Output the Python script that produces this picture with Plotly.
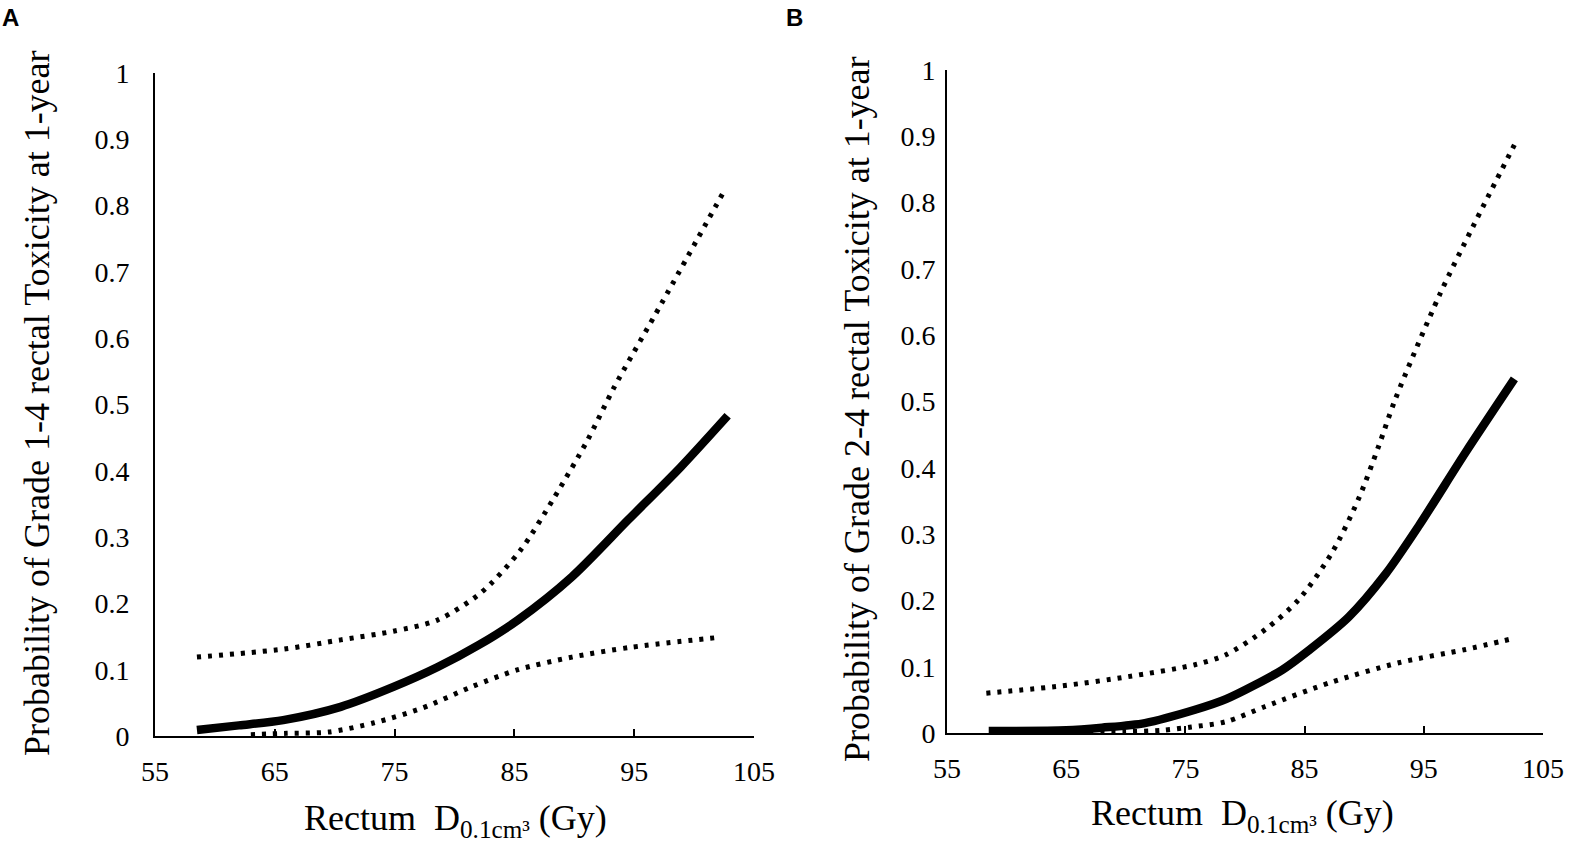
import plotly.graph_objects as go

# ---------------- data ----------------
# Panel A: Grade 1-4 rectal toxicity
A_main_x = [58.5, 62.0, 65.7, 70.5, 74.9, 78.6, 82.0, 85.3, 89.8, 94.5, 98.9, 102.8]
A_main_y = [0.009, 0.016, 0.024, 0.044, 0.074, 0.104, 0.137, 0.175, 0.240, 0.326, 0.406, 0.483]
A_up_x = [58.5, 65.7, 70.5, 74.9, 78.6, 82.2, 85.5, 88.3, 91.1, 93.3, 97.3, 102.6]
A_up_y = [0.119, 0.131, 0.145, 0.158, 0.175, 0.216, 0.280, 0.359, 0.446, 0.525, 0.653, 0.825]
A_lo_x = [63.0, 66.0, 69.5, 73.3, 77.3, 81.4, 85.3, 89.8, 94.8, 102.2]
A_lo_y = [0.002, 0.004, 0.006, 0.020, 0.042, 0.074, 0.100, 0.119, 0.134, 0.149]

# Panel B: Grade 2-4 rectal toxicity
B_main_x = [58.5, 65.0, 68.0, 71.6, 75.8, 78.4, 83.1, 85.3, 88.7, 91.8, 94.6, 98.5, 102.6]
B_main_y = [0.003, 0.004, 0.008, 0.015, 0.035, 0.051, 0.095, 0.124, 0.175, 0.240, 0.313, 0.423, 0.534]
B_up_x = [58.3, 64.6, 70.2, 75.8, 78.4, 81.7, 84.5, 87.3, 89.5, 91.2, 92.6, 96.3, 99.1, 102.6]
B_up_y = [0.060, 0.071, 0.085, 0.103, 0.118, 0.156, 0.201, 0.272, 0.352, 0.432, 0.503, 0.660, 0.763, 0.887]
B_lo_x = [66.0, 70.0, 73.0, 75.5, 78.4, 81.7, 87.3, 92.9, 98.5, 102.6]
B_lo_y = [0.001, 0.002, 0.004, 0.009, 0.017, 0.040, 0.077, 0.106, 0.126, 0.143]

X_TICKS = [55, 65, 75, 85, 95, 105]
Y_TICKS = [0, 0.1, 0.2, 0.3, 0.4, 0.5, 0.6, 0.7, 0.8, 0.9, 1]
Y_TICKTEXT = ["0", "0.1", "0.2", "0.3", "0.4", "0.5", "0.6", "0.7", "0.8", "0.9", "1"]

Y_TITLE_A = "Probability of Grade 1-4 rectal Toxicity at 1-year"
Y_TITLE_B = "Probability of Grade 2-4 rectal Toxicity at 1-year"
X_TITLE = "Rectum  D<sub>0.1cm³</sub> (Gy)"

# ---------------- figure ----------------
W, H = 1571, 847
SERIF = "Liberation Serif, Times New Roman, serif"

fig = go.Figure()

def add_panel(xa, ya, mx, my, ux, uy, lx, ly):
    dotted = dict(color="black", width=5, dash="4px,7px", shape="spline", smoothing=0.8)
    fig.add_trace(go.Scatter(x=ux, y=uy, mode="lines", line=dotted,
                             xaxis=xa, yaxis=ya, showlegend=False, hoverinfo="skip"))
    fig.add_trace(go.Scatter(x=lx, y=ly, mode="lines", line=dotted,
                             xaxis=xa, yaxis=ya, showlegend=False, hoverinfo="skip"))
    fig.add_trace(go.Scatter(x=mx, y=my, mode="lines",
                             line=dict(color="black", width=8.5, shape="spline", smoothing=0.8),
                             xaxis=xa, yaxis=ya, showlegend=False, hoverinfo="skip"))

add_panel("x", "y", A_main_x, A_main_y, A_up_x, A_up_y, A_lo_x, A_lo_y)
add_panel("x2", "y2", B_main_x, B_main_y, B_up_x, B_up_y, B_lo_x, B_lo_y)

xcommon = dict(range=[55, 105], tickvals=X_TICKS, ticktext=[str(v) for v in X_TICKS],
               showline=True, linecolor="black", linewidth=2, ticks="inside", ticklen=7,
               tickwidth=2, tickcolor="black", showgrid=False, zeroline=False,
               tickfont=dict(family=SERIF, size=28, color="black"), ticklabelstandoff=9,
               fixedrange=True, automargin=False)
ycommon = dict(range=[0, 1], tickvals=Y_TICKS, ticktext=Y_TICKTEXT,
               showline=True, linecolor="black", linewidth=2, ticks="",
               showgrid=False, zeroline=False,
               tickfont=dict(family=SERIF, size=28, color="black"),
               fixedrange=True, automargin=False)

fig.update_layout(
    template="none",
    width=W, height=H,
    margin=dict(l=0, r=0, t=0, b=0, pad=0, autoexpand=False),
    paper_bgcolor="white", plot_bgcolor="white",
    xaxis=dict(domain=[155 / W, 754 / W], anchor="y", **xcommon),
    yaxis=dict(domain=[(H - 736) / H, (H - 73) / H], anchor="x", ticklabelstandoff=18, **ycommon),
    xaxis2=dict(domain=[947 / W, 1543 / W], anchor="y2", **xcommon),
    yaxis2=dict(domain=[(H - 733) / H, (H - 70) / H], anchor="x2", ticklabelstandoff=4, **ycommon),
)

ann = []
def px(xp, yp):
    return dict(xref="paper", yref="paper", x=xp / W, y=1 - yp / H)

ann.append(dict(text="<b>A</b>", font=dict(family="Liberation Sans, Arial", size=24, color="black"),
                showarrow=False, xanchor="left", yanchor="middle", **px(0, 18)))
ann.append(dict(text="<b>B</b>", font=dict(family="Liberation Sans, Arial", size=24, color="black"),
                showarrow=False, xanchor="left", yanchor="middle", **px(784, 18)))
ann.append(dict(text=Y_TITLE_A, textangle=-90, font=dict(family=SERIF, size=36, color="black"),
                showarrow=False, xanchor="center", yanchor="middle", **px(37, 403)))
ann.append(dict(text=Y_TITLE_B, textangle=-90, font=dict(family=SERIF, size=36, color="black"),
                showarrow=False, xanchor="center", yanchor="middle", **px(857, 409)))
ann.append(dict(text=X_TITLE, font=dict(family=SERIF, size=36, color="black"),
                showarrow=False, xanchor="center", yanchor="middle", **px(455, 820)))
ann.append(dict(text=X_TITLE, font=dict(family=SERIF, size=36, color="black"),
                showarrow=False, xanchor="center", yanchor="middle", **px(1242, 815)))
fig.update_layout(annotations=ann)

fig.write_html("out.html", config={"displayModeBar": False},
               post_script="document.body.style.margin='0';")
